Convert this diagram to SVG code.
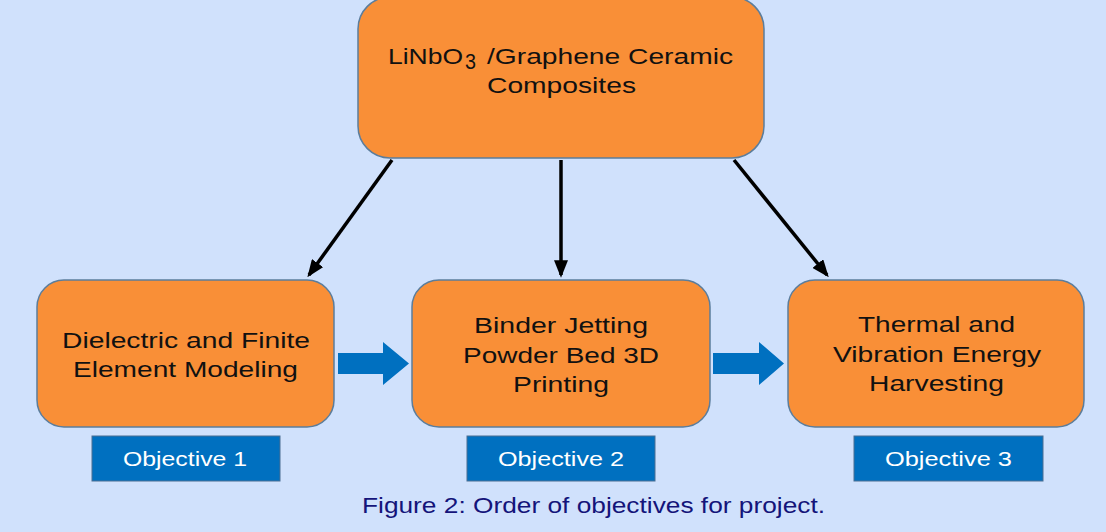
<svg xmlns="http://www.w3.org/2000/svg" width="1106" height="532" viewBox="0 0 1106 532">
<style>
.node{fill:#f98f37;stroke:#5b7d9c;stroke-width:1.5}
.t{font-family:"Liberation Sans",Arial,sans-serif;font-size:22px;fill:#111}
.ot{font-family:"Liberation Sans",Arial,sans-serif;font-size:21px;fill:#fff}
.obj{fill:#0070c0;stroke:#4a6f92;stroke-width:1}
.cap{font-family:"Liberation Sans",Arial,sans-serif;font-size:22px;fill:#14147a}
.conn{stroke:#000;stroke-width:3.5;fill:none;marker-end:url(#ah)}
.big{fill:#0070c0}
</style>
<defs>
<marker id="ah" markerWidth="5" markerHeight="4" refX="4.2" refY="2" orient="auto" markerUnits="strokeWidth">
<path d="M0,0 L5,2 L0,4 z" fill="#000"/>
</marker>
</defs>
<rect width="1106" height="532" fill="#d0e1fc"/>
<g id="connectors">
<line class="conn" x1="392" y1="160" x2="309" y2="275"/>
<line class="conn" x1="561" y1="160" x2="561" y2="275"/>
<line class="conn" x1="734" y1="160" x2="827" y2="275"/>
<path class="big" d="M338,353 L383,353 L383,342 L409,363.5 L383,385 L383,374 L338,374 z"/>
<path class="big" d="M713,353 L759,353 L759,342 L784,363.5 L759,385 L759,374 L713,374 z"/>
</g>
<g id="top">
<rect class="node" x="358" y="-3" width="406" height="161" rx="32"/>
<text class="t" x="388" y="64" textLength="75" lengthAdjust="spacingAndGlyphs">LiNbO</text>
<text class="t" x="465" y="69" font-size="15" textLength="11" lengthAdjust="spacingAndGlyphs">3</text>
<text class="t" x="487" y="64" textLength="246" lengthAdjust="spacingAndGlyphs">/Graphene Ceramic</text>
<text class="t" x="487" y="93" textLength="149" lengthAdjust="spacingAndGlyphs">Composites</text>
</g>
<g id="obj1node">
<rect class="node" x="37" y="280" width="297" height="147" rx="27"/>
<text class="t" x="62" y="348" textLength="248" lengthAdjust="spacingAndGlyphs">Dielectric and Finite</text>
<text class="t" x="73" y="377" textLength="225" lengthAdjust="spacingAndGlyphs">Element Modeling</text>
</g>
<g id="obj2node">
<rect class="node" x="412" y="280" width="298" height="147" rx="27"/>
<text class="t" x="474" y="333" textLength="174" lengthAdjust="spacingAndGlyphs">Binder Jetting</text>
<text class="t" x="463" y="363" textLength="196" lengthAdjust="spacingAndGlyphs">Powder Bed 3D</text>
<text class="t" x="513" y="392" textLength="96" lengthAdjust="spacingAndGlyphs">Printing</text>
</g>
<g id="obj3node">
<rect class="node" x="788" y="280" width="296" height="147" rx="27"/>
<text class="t" x="858" y="332" textLength="157" lengthAdjust="spacingAndGlyphs">Thermal and</text>
<text class="t" x="833" y="362" textLength="208" lengthAdjust="spacingAndGlyphs">Vibration Energy</text>
<text class="t" x="869" y="391" textLength="135" lengthAdjust="spacingAndGlyphs">Harvesting</text>
</g>
<g id="label1">
<rect class="obj" x="92" y="436" width="188" height="45"/>
<text class="ot" x="123" y="466" textLength="124" lengthAdjust="spacingAndGlyphs">Objective 1</text>
</g>
<g id="label2">
<rect class="obj" x="467" y="436" width="188" height="45"/>
<text class="ot" x="498" y="466" textLength="126" lengthAdjust="spacingAndGlyphs">Objective 2</text>
</g>
<g id="label3">
<rect class="obj" x="854" y="436" width="189" height="45"/>
<text class="ot" x="885" y="466" textLength="127" lengthAdjust="spacingAndGlyphs">Objective 3</text>
</g>
<text class="cap" x="362" y="513" textLength="463" lengthAdjust="spacingAndGlyphs">Figure 2: Order of objectives for project.</text>
</svg>
